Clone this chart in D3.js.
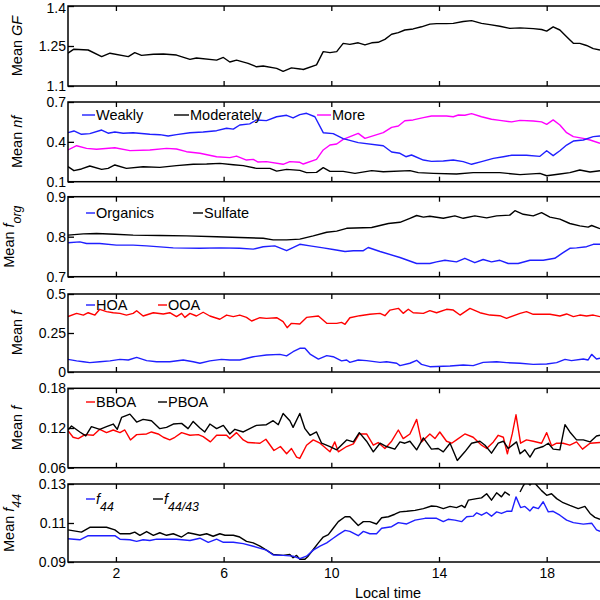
<!DOCTYPE html>
<html><head><meta charset="utf-8">
<script src="https://cdn.jsdelivr.net/npm/d3@7"></script>
<style>body{margin:0;background:#fff}svg{display:block;font-family:"Liberation Sans",Arial,Helvetica,sans-serif}</style>
</head><body><svg id="c" width="600" height="600"></svg>
<script>
// ---------- DATA (local time in hours) ----------
const xTicks = [2, 6, 10, 14, 18];

// Panel 1: Mean GF
const gfTime = [0.22,0.44,0.97,1.47,1.78,2.46,2.70,2.95,3.39,3.76,4.25,4.75,4.99,5.74,5.99,6.23,6.48,6.91,7.22,7.47,7.97,8.21,8.52,8.84,8.96,9.45,9.70,9.95,10.20,10.44,10.69,11.00,11.25,11.50,11.74,11.99,12.24,12.49,12.73,13.04,13.35,13.66,13.91,14.28,14.53,14.90,15.21,15.58,15.89,16.26,16.63,17.01,17.50,17.81,18.00,18.24,18.49,18.74,18.99,19.23,19.48,19.73,19.98];
const gfMean = [1.223,1.238,1.235,1.21,1.223,1.21,1.225,1.215,1.219,1.22,1.216,1.2,1.205,1.197,1.207,1.19,1.197,1.185,1.172,1.175,1.166,1.155,1.168,1.164,1.162,1.179,1.229,1.225,1.229,1.26,1.256,1.262,1.254,1.262,1.264,1.275,1.294,1.3,1.31,1.314,1.322,1.332,1.334,1.334,1.335,1.342,1.345,1.335,1.33,1.324,1.316,1.318,1.315,1.312,1.306,1.322,1.31,1.285,1.26,1.26,1.252,1.24,1.235];
const gfTicks = [1.1, 1.25, 1.4];

// Panel 2: Mean nf
const weaklyTime = [0.22,0.44,0.72,1.03,1.47,1.71,1.96,2.27,2.64,3.26,3.63,3.94,4.25,4.75,5.24,5.74,6.11,6.36,6.60,6.97,7.22,7.59,7.97,8.34,8.58,8.83,9.08,9.39,9.70,10.07,10.44,11.00,11.93,12.24,12.55,12.77,12.98,13.42,13.72,14.16,14.53,14.90,15.21,15.58,16.02,16.39,16.70,17.25,17.75,18.00,18.24,18.49,18.74,18.99,19.36,19.73,19.98];
const weaklyVal = [0.469,0.482,0.457,0.462,0.489,0.465,0.474,0.465,0.469,0.457,0.454,0.444,0.454,0.469,0.474,0.484,0.502,0.496,0.527,0.535,0.565,0.56,0.589,0.6,0.58,0.605,0.615,0.589,0.469,0.462,0.424,0.394,0.371,0.324,0.314,0.288,0.301,0.263,0.253,0.256,0.263,0.251,0.231,0.251,0.276,0.288,0.299,0.299,0.291,0.333,0.296,0.333,0.376,0.406,0.414,0.439,0.444];
const moderatelyTime = [0.22,0.44,0.72,1.03,1.47,1.71,1.96,2.39,3.01,3.63,4.25,4.87,5.37,5.86,6.36,6.73,7.22,7.72,7.97,8.34,8.83,9.08,9.45,9.70,9.95,10.44,10.88,11.50,11.93,12.92,13.23,13.79,14.65,15.27,16.26,17.01,17.75,18.00,18.49,18.86,19.23,19.61,19.98];
const moderatelyVal = [0.213,0.183,0.196,0.218,0.193,0.2,0.226,0.2,0.213,0.208,0.221,0.231,0.233,0.238,0.228,0.221,0.2,0.2,0.18,0.193,0.185,0.168,0.17,0.206,0.178,0.178,0.163,0.183,0.175,0.183,0.168,0.163,0.158,0.168,0.168,0.153,0.163,0.145,0.158,0.168,0.188,0.173,0.183];
const moreTime = [0.22,0.54,0.91,1.28,1.96,2.52,3.26,3.88,4.25,4.62,5.12,5.74,6.23,6.48,6.85,7.10,7.28,7.59,8.21,8.46,8.83,8.96,9.45,9.70,9.95,10.20,10.44,11.00,11.25,11.93,12.24,12.49,12.73,13.04,13.42,13.72,14.28,14.53,14.72,14.96,15.21,15.58,15.95,16.26,16.70,17.01,17.50,17.81,18.00,18.24,18.49,18.74,18.99,19.36,19.61,19.98];
const moreVal = [0.339,0.371,0.351,0.344,0.356,0.334,0.339,0.351,0.346,0.326,0.314,0.288,0.281,0.293,0.263,0.268,0.248,0.251,0.231,0.251,0.246,0.233,0.268,0.339,0.376,0.384,0.419,0.464,0.426,0.469,0.509,0.519,0.559,0.565,0.582,0.595,0.595,0.589,0.602,0.6,0.612,0.589,0.57,0.562,0.55,0.562,0.557,0.55,0.532,0.565,0.527,0.469,0.439,0.426,0.414,0.389];
const nfTicks = [0.1, 0.4, 0.7];

// Panel 3: Mean f_org
const organicsTime = [0.22,0.66,0.91,1.40,2.02,2.64,3.14,4.13,5.12,5.86,6.60,7.10,7.47,7.90,8.34,8.83,9.21,9.70,10.07,10.51,10.82,11.19,11.37,11.81,12.55,13.17,13.66,13.91,14.22,14.65,14.96,15.33,15.64,15.95,16.26,16.57,16.94,17.38,17.87,18.30,18.61,18.86,19.11,19.48,19.73,19.98];
const organicsVal = [0.785,0.787,0.783,0.783,0.779,0.779,0.777,0.772,0.771,0.772,0.771,0.769,0.775,0.777,0.765,0.781,0.777,0.772,0.768,0.763,0.765,0.765,0.773,0.763,0.748,0.733,0.733,0.737,0.741,0.737,0.746,0.735,0.743,0.737,0.741,0.733,0.733,0.741,0.741,0.746,0.76,0.771,0.772,0.775,0.781,0.781];
const sulfateTime = [0.22,0.79,1.28,1.96,2.64,3.63,4.62,5.74,6.60,7.47,7.84,8.34,8.83,9.33,9.83,10.20,10.57,11.50,12.12,12.55,12.92,13.17,13.42,13.66,14.16,14.59,14.90,15.33,15.77,16.14,16.63,16.82,17.13,17.50,17.81,18.12,18.49,18.86,19.23,19.54,19.67,19.98];
const sulfateVal = [0.804,0.807,0.808,0.806,0.804,0.803,0.802,0.80,0.798,0.796,0.792,0.792,0.794,0.802,0.811,0.814,0.821,0.823,0.833,0.836,0.846,0.853,0.849,0.851,0.846,0.852,0.846,0.852,0.847,0.852,0.854,0.865,0.856,0.852,0.86,0.849,0.844,0.833,0.827,0.824,0.828,0.82];
const forgTicks = [0.7, 0.8, 0.9];

// Panel 4: Mean f (HOA / OOA)
const hoaTime = [0.22,0.54,0.79,1.03,1.40,1.78,2.15,2.46,2.77,3.14,3.51,4.00,4.50,4.87,5.12,5.49,5.92,6.23,6.60,7.10,7.59,8.09,8.34,8.58,8.83,9.02,9.21,9.52,9.83,10.07,10.38,10.57,10.69,11.00,11.31,11.81,12.05,12.43,12.55,12.92,13.17,13.35,13.66,14.41,14.90,15.27,15.64,16.14,16.51,17.01,17.50,18.00,18.37,18.68,18.92,19.36,19.54,19.67,19.85,19.98];
const hoaVal = [0.081,0.071,0.066,0.060,0.066,0.071,0.081,0.077,0.094,0.073,0.066,0.066,0.077,0.066,0.056,0.071,0.081,0.077,0.077,0.098,0.109,0.113,0.103,0.130,0.152,0.152,0.115,0.083,0.105,0.098,0.071,0.077,0.062,0.077,0.073,0.062,0.066,0.056,0.041,0.056,0.075,0.049,0.034,0.038,0.045,0.041,0.062,0.066,0.060,0.056,0.049,0.051,0.060,0.081,0.073,0.083,0.077,0.113,0.083,0.088];
const ooaTime = [0.22,0.54,0.79,0.97,1.22,1.40,1.65,1.90,2.15,2.39,2.64,2.77,3.01,3.39,3.76,4.00,4.25,4.44,4.56,4.75,4.99,5.24,5.49,5.86,6.11,6.36,6.60,6.85,7.04,7.35,7.59,7.97,8.21,8.36,8.52,8.83,9.08,9.52,9.83,10.20,10.38,10.51,10.69,11.06,11.43,11.81,11.99,12.18,12.49,12.67,12.86,13.04,13.42,13.66,13.91,14.28,14.53,14.78,15.15,15.52,15.89,16.26,16.51,17.01,17.25,17.50,18.12,18.49,18.74,18.99,19.23,19.48,19.73,19.98];
const ooaVal = [0.355,0.376,0.365,0.380,0.365,0.402,0.387,0.380,0.376,0.365,0.376,0.393,0.359,0.380,0.372,0.380,0.355,0.376,0.350,0.376,0.359,0.383,0.359,0.338,0.365,0.355,0.365,0.350,0.327,0.348,0.344,0.348,0.323,0.284,0.312,0.308,0.350,0.359,0.312,0.312,0.318,0.306,0.348,0.361,0.370,0.376,0.361,0.397,0.408,0.376,0.402,0.380,0.376,0.393,0.380,0.402,0.397,0.365,0.408,0.380,0.365,0.361,0.344,0.376,0.387,0.370,0.370,0.359,0.372,0.355,0.365,0.359,0.365,0.355];
const fTicksA = [0, 0.25, 0.5];

// Panel 5: Mean f (BBOA / PBOA)
const bboaTime = [0.22,0.41,0.60,0.85,1.16,1.40,1.65,1.90,2.15,2.33,2.54,2.77,3.14,3.32,3.57,3.76,4.00,4.19,4.44,4.75,5.06,5.24,5.51,5.74,6.11,6.23,6.48,6.73,6.91,7.35,7.57,7.87,8.11,8.34,8.52,8.71,8.83,9.08,9.33,9.58,9.95,10.13,10.26,10.57,10.82,11.04,11.31,11.56,11.74,11.99,12.24,12.49,12.67,12.92,13.17,13.35,13.66,13.85,14.03,14.28,14.47,14.65,14.96,15.27,15.58,15.77,16.02,16.20,16.39,16.54,16.72,16.86,17.03,17.25,17.50,17.81,18.00,18.18,18.37,18.61,18.86,19.11,19.33,19.61,19.98];
const bboaVal = [0.116,0.106,0.104,0.11,0.109,0.118,0.113,0.117,0.113,0.117,0.102,0.11,0.111,0.114,0.111,0.106,0.102,0.106,0.113,0.109,0.11,0.107,0.099,0.109,0.109,0.104,0.113,0.102,0.098,0.097,0.103,0.086,0.092,0.081,0.089,0.076,0.074,0.094,0.102,0.097,0.084,0.099,0.084,0.092,0.096,0.111,0.111,0.094,0.098,0.089,0.10,0.117,0.104,0.111,0.133,0.099,0.111,0.104,0.114,0.10,0.097,0.102,0.111,0.106,0.094,0.089,0.099,0.109,0.106,0.081,0.111,0.14,0.097,0.102,0.10,0.097,0.113,0.093,0.097,0.097,0.094,0.099,0.088,0.097,0.098];
const pboaTime = [0.22,0.35,0.66,0.88,1.09,1.40,1.65,1.90,2.05,2.21,2.52,2.77,3.01,3.32,3.63,3.88,4.13,4.44,4.68,4.87,5.12,5.30,5.49,5.74,5.99,6.23,6.42,6.73,7.22,7.59,7.84,8.03,8.21,8.46,8.58,8.83,9.02,9.21,9.45,9.64,9.95,10.20,10.57,10.82,11.04,11.31,11.56,11.81,12.05,12.36,12.55,12.73,12.92,13.17,13.42,13.72,13.97,14.16,14.41,14.68,14.96,15.21,15.52,15.71,15.95,16.20,16.39,16.57,16.88,17.01,17.19,17.38,17.56,17.87,18.06,18.24,18.49,18.68,18.86,19.11,19.36,19.61,19.85,19.98];
const pboaVal = [0.117,0.123,0.114,0.108,0.122,0.118,0.122,0.126,0.118,0.136,0.141,0.129,0.133,0.131,0.119,0.121,0.126,0.127,0.119,0.13,0.12,0.114,0.126,0.119,0.124,0.111,0.118,0.114,0.124,0.125,0.131,0.125,0.142,0.131,0.121,0.142,0.119,0.109,0.114,0.097,0.092,0.087,0.102,0.099,0.113,0.10,0.084,0.097,0.092,0.088,0.099,0.097,0.10,0.087,0.105,0.088,0.089,0.084,0.097,0.071,0.084,0.097,0.10,0.094,0.082,0.097,0.10,0.089,0.099,0.081,0.087,0.076,0.088,0.092,0.097,0.088,0.087,0.125,0.114,0.102,0.102,0.099,0.108,0.109];
const fTicksB = [0.06, 0.12, 0.18];

// Panel 6: Mean f44 (f44 / f44/43)
const f44Time = [0.22,0.66,0.97,1.96,2.15,2.52,2.77,3.01,3.26,3.51,4.25,4.75,5.12,5.43,5.74,5.99,6.36,6.73,7.10,7.59,7.84,8.21,8.58,8.83,9.08,9.33,9.58,9.83,10.07,10.26,10.51,10.69,11.00,11.19,11.43,11.68,11.87,12.24,12.49,12.80,13.11,13.48,13.91,14.16,14.34,14.59,14.84,15.03,15.27,15.40,15.58,15.77,15.95,16.14,16.32,16.51,16.70,16.86,17.03,17.19,17.38,17.50,17.69,17.87,18.06,18.24,18.49,18.74,18.99,19.36,19.67,19.85,19.98];
const f44Val = [0.1019,0.1014,0.1035,0.1035,0.1017,0.1014,0.1006,0.1014,0.101,0.1017,0.1017,0.101,0.1022,0.1001,0.1017,0.1001,0.1001,0.0994,0.0981,0.0961,0.0936,0.0934,0.093,0.0917,0.093,0.0961,0.0981,0.0998,0.1022,0.104,0.1062,0.1057,0.1035,0.1057,0.1045,0.1045,0.1073,0.1081,0.1102,0.1095,0.1115,0.1124,0.1124,0.1107,0.1119,0.1115,0.1107,0.1132,0.1135,0.1152,0.114,0.1154,0.1135,0.1157,0.1149,0.116,0.116,0.1234,0.1179,0.1185,0.1162,0.1182,0.1174,0.1209,0.1157,0.116,0.114,0.1115,0.1102,0.1094,0.1099,0.1065,0.1057];
const f4443Time = [0.22,0.72,1.03,1.65,1.96,2.15,2.52,2.70,2.89,3.14,3.39,3.63,3.88,4.13,4.44,4.68,4.87,5.12,5.37,5.61,5.86,6.05,6.36,6.60,6.85,7.10,7.35,7.59,7.84,8.21,8.46,8.58,8.71,8.83,9.02,9.14,9.33,9.52,9.70,9.89,10.07,10.26,10.51,10.69,11.00,11.19,11.43,11.68,11.87,12.12,12.36,12.55,12.80,13.11,13.42,13.72,13.91,14.16,14.41,14.65,14.84,14.96,15.09,15.40,15.58,15.77,15.95,16.14,16.32,16.45,16.63,16.80,17.01,17.13,17.25,17.38,17.50,17.62,17.81,18.00,18.18,18.37,18.61,18.86,19.17,19.42,19.61,19.79,19.98];
const f4443Val = [0.1065,0.1053,0.1078,0.1078,0.1065,0.1045,0.1045,0.1053,0.1037,0.1056,0.1037,0.105,0.1037,0.1045,0.1028,0.105,0.1045,0.1037,0.1045,0.1032,0.1045,0.1037,0.1037,0.1028,0.1006,0.0998,0.0981,0.0961,0.0939,0.0934,0.0939,0.0922,0.0934,0.0914,0.0914,0.093,0.0964,0.0998,0.1028,0.104,0.1073,0.1107,0.1132,0.1132,0.1087,0.1107,0.1107,0.1095,0.1127,0.1132,0.1145,0.1157,0.116,0.1165,0.1174,0.1187,0.1185,0.1174,0.1185,0.1179,0.119,0.1179,0.1217,0.1225,0.1229,0.125,0.1217,0.1255,0.1234,0.1259,0.1242,null,0.1259,0.1291,0.1315,0.1295,0.1315,0.1295,0.1266,0.1242,0.125,0.1225,0.1204,0.119,0.1174,0.1185,0.1149,0.1129,0.1119];
const f44Ticks = [0.09, 0.11, 0.13];

// ---------- DRAWING ----------
const BLUE = "#1f1fff", BLACK = "#000", MAGENTA = "#ff00ff", RED = "#ff0000";
const svg = d3.select("#c");
const x = d3.scaleLinear().domain([0.22, 19.98]).range([68, 600]);
const FONT = '"Liberation Sans", Arial, sans-serif';

const panels = [
  { top: 6, bottom: 86, domain: [1.1, 1.4], ticks: gfTicks, tickFmt: ["1.1","1.25","1.4"],
    label: [["Mean ", false, 0], ["GF", true, 0]], labelX: 22,
    series: [{ t: gfTime, v: gfMean, c: BLACK }], legend: [] },
  { top: 102, bottom: 181.7, domain: [0.1, 0.7], ticks: nfTicks, tickFmt: ["0.1","0.4","0.7"],
    label: [["Mean ", false, 0], ["nf", true, 0]], labelX: 22,
    series: [{ t: moreTime, v: moreVal, c: MAGENTA }, { t: moderatelyTime, v: moderatelyVal, c: BLACK }, { t: weaklyTime, v: weaklyVal, c: BLUE }],
    legend: [{ x: 82, w: 13, y: 115, c: BLUE, txt: [["Weakly", false, 0]] },
             { x: 174, w: 15, y: 115, c: BLACK, txt: [["Moderately", false, 0]] },
             { x: 317, w: 14, y: 115, c: MAGENTA, txt: [["More", false, 0]] }] },
  { top: 196.7, bottom: 276.7, domain: [0.7, 0.9], ticks: forgTicks, tickFmt: ["0.7","0.8","0.9"],
    label: [["Mean ", false, 0], ["f", true, 0], ["org", true, 1]], labelX: 14,
    series: [{ t: sulfateTime, v: sulfateVal, c: BLACK }, { t: organicsTime, v: organicsVal, c: BLUE }],
    legend: [{ x: 86, w: 9, y: 213, c: BLUE, txt: [["Organics", false, 0]] },
             { x: 193, w: 10, y: 213, c: BLACK, txt: [["Sulfate", false, 0]] }] },
  { top: 294, bottom: 372, domain: [0, 0.5], ticks: fTicksA, tickFmt: ["0","0.25","0.5"],
    label: [["Mean ", false, 0], ["f", true, 0]], labelX: 22,
    series: [{ t: ooaTime, v: ooaVal, c: RED }, { t: hoaTime, v: hoaVal, c: BLUE }],
    legend: [{ x: 86, w: 9, y: 305, c: BLUE, txt: [["HOA", false, 0]] },
             { x: 158, w: 9, y: 305, c: RED, txt: [["OOA", false, 0]] }] },
  { top: 388.3, bottom: 467.7, domain: [0.06, 0.18], ticks: fTicksB, tickFmt: ["0.06","0.12","0.18"],
    label: [["Mean ", false, 0], ["f", true, 0]], labelX: 22,
    series: [{ t: bboaTime, v: bboaVal, c: RED }, { t: pboaTime, v: pboaVal, c: BLACK }],
    legend: [{ x: 86, w: 9, y: 402, c: RED, txt: [["BBOA", false, 0]] },
             { x: 158, w: 9, y: 402, c: BLACK, txt: [["PBOA", false, 0]] }] },
  { top: 484, bottom: 562, domain: [0.09, 0.13], ticks: f44Ticks, tickFmt: ["0.09","0.11","0.13"],
    label: [["Mean ", false, 0], ["f", true, 0], ["44", true, 1]], labelX: 14,
    series: [{ t: f4443Time, v: f4443Val, c: BLACK }, { t: f44Time, v: f44Val, c: BLUE }],
    legend: [{ x: 86, w: 9, y: 499, c: BLUE, txt: [["f", true, 0], ["44", true, 1]] },
             { x: 153, w: 10, y: 499, c: BLACK, txt: [["f", true, 0], ["44/43", true, 1]] }] }
];

function addRich(sel, parts, size) {
  let shifted = false;
  parts.forEach(([s, it, sub]) => {
    const ts = sel.append("tspan").text(s).attr("font-style", it ? "italic" : "normal");
    if (sub && !shifted) { ts.attr("dy", size * 0.45).attr("font-size", size * 0.85); shifted = true; }
    else if (!sub && shifted) { ts.attr("dy", -size * 0.45); shifted = false; }
  });
}

panels.forEach((p, i) => {
  const y = d3.scaleLinear().domain(p.domain).range([p.bottom, p.top]);
  const g = svg.append("g");
  const clipId = "clip" + i;
  svg.append("clipPath").attr("id", clipId).append("rect")
    .attr("x", 68).attr("y", p.top).attr("width", 540).attr("height", p.bottom - p.top);

  // data lines
  const line = d3.line().defined(d => d[1] != null).x(d => x(d[0])).y(d => y(d[1]));
  const lg = g.append("g").attr("clip-path", `url(#${clipId})`);
  p.series.forEach(s => {
    lg.append("path").datum(d3.zip(s.t, s.v)).attr("d", line)
      .attr("fill", "none").attr("stroke", s.c).attr("stroke-width", 1.4)
      .attr("stroke-linejoin", "round");
  });

  // y axis (inward ticks)
  const ya = g.append("g").attr("transform", "translate(68,0)")
    .call(d3.axisLeft(y).tickValues(p.ticks).tickSize(-6).tickPadding(2)
      .tickFormat((d, k) => p.tickFmt[k]));
  ya.select(".domain").remove();
  ya.selectAll("line").attr("stroke", "#000").attr("stroke-width", 1.3);
  ya.selectAll("text").attr("font-size", 14).attr("font-family", FONT).attr("fill", "#000");
  if (i === 0) {
    // keep the topmost tick label inside the picture
    ya.selectAll(".tick").filter(d => d === p.domain[1]).select("text").attr("dy", "0.45em");
  }

  // x axes top/bottom (inward ticks)
  const xb = g.append("g").attr("transform", `translate(0,${p.bottom})`)
    .call(d3.axisBottom(x).tickValues(xTicks).tickSize(-5).tickPadding(6)
      .tickFormat(i === panels.length - 1 ? d3.format("d") : () => ""));
  xb.select(".domain").remove();
  xb.selectAll("line").attr("stroke", "#000").attr("stroke-width", 1.3);
  xb.selectAll("text").attr("font-size", 14).attr("font-family", FONT).attr("fill", "#000");
  const xt = g.append("g").attr("transform", `translate(0,${p.top})`)
    .call(d3.axisTop(x).tickValues(xTicks).tickSize(-5).tickFormat(() => ""));
  xt.select(".domain").remove();
  xt.selectAll("line").attr("stroke", "#000").attr("stroke-width", 1.3);

  // frame (right edge lies outside the picture)
  g.append("rect").attr("x", 68).attr("y", p.top).attr("width", 545).attr("height", p.bottom - p.top)
    .attr("fill", "none").attr("stroke", "#000").attr("stroke-width", 1.5);

  // y label
  const cy = (p.top + p.bottom) / 2;
  const yl = g.append("text").attr("transform", `translate(${p.labelX},${cy}) rotate(-90)`)
    .attr("text-anchor", "middle").attr("font-size", 14.5).attr("font-family", FONT);
  addRich(yl, p.label, 14.5);

  // legend
  p.legend.forEach(l => {
    g.append("line").attr("x1", l.x).attr("x2", l.x + l.w).attr("y1", l.y).attr("y2", l.y)
      .attr("stroke", l.c).attr("stroke-width", 1.4);
    const t = g.append("text").attr("x", l.x + l.w + 1).attr("y", l.y + 5)
      .attr("font-size", 14.5).attr("font-family", FONT).attr("fill", "#000");
    addRich(t, l.txt, 14.5);
  });
});

svg.append("text").attr("x", 388).attr("y", 598).attr("text-anchor", "middle")
  .attr("font-size", 14.5).attr("font-family", FONT).text("Local time");
</script></body></html>
